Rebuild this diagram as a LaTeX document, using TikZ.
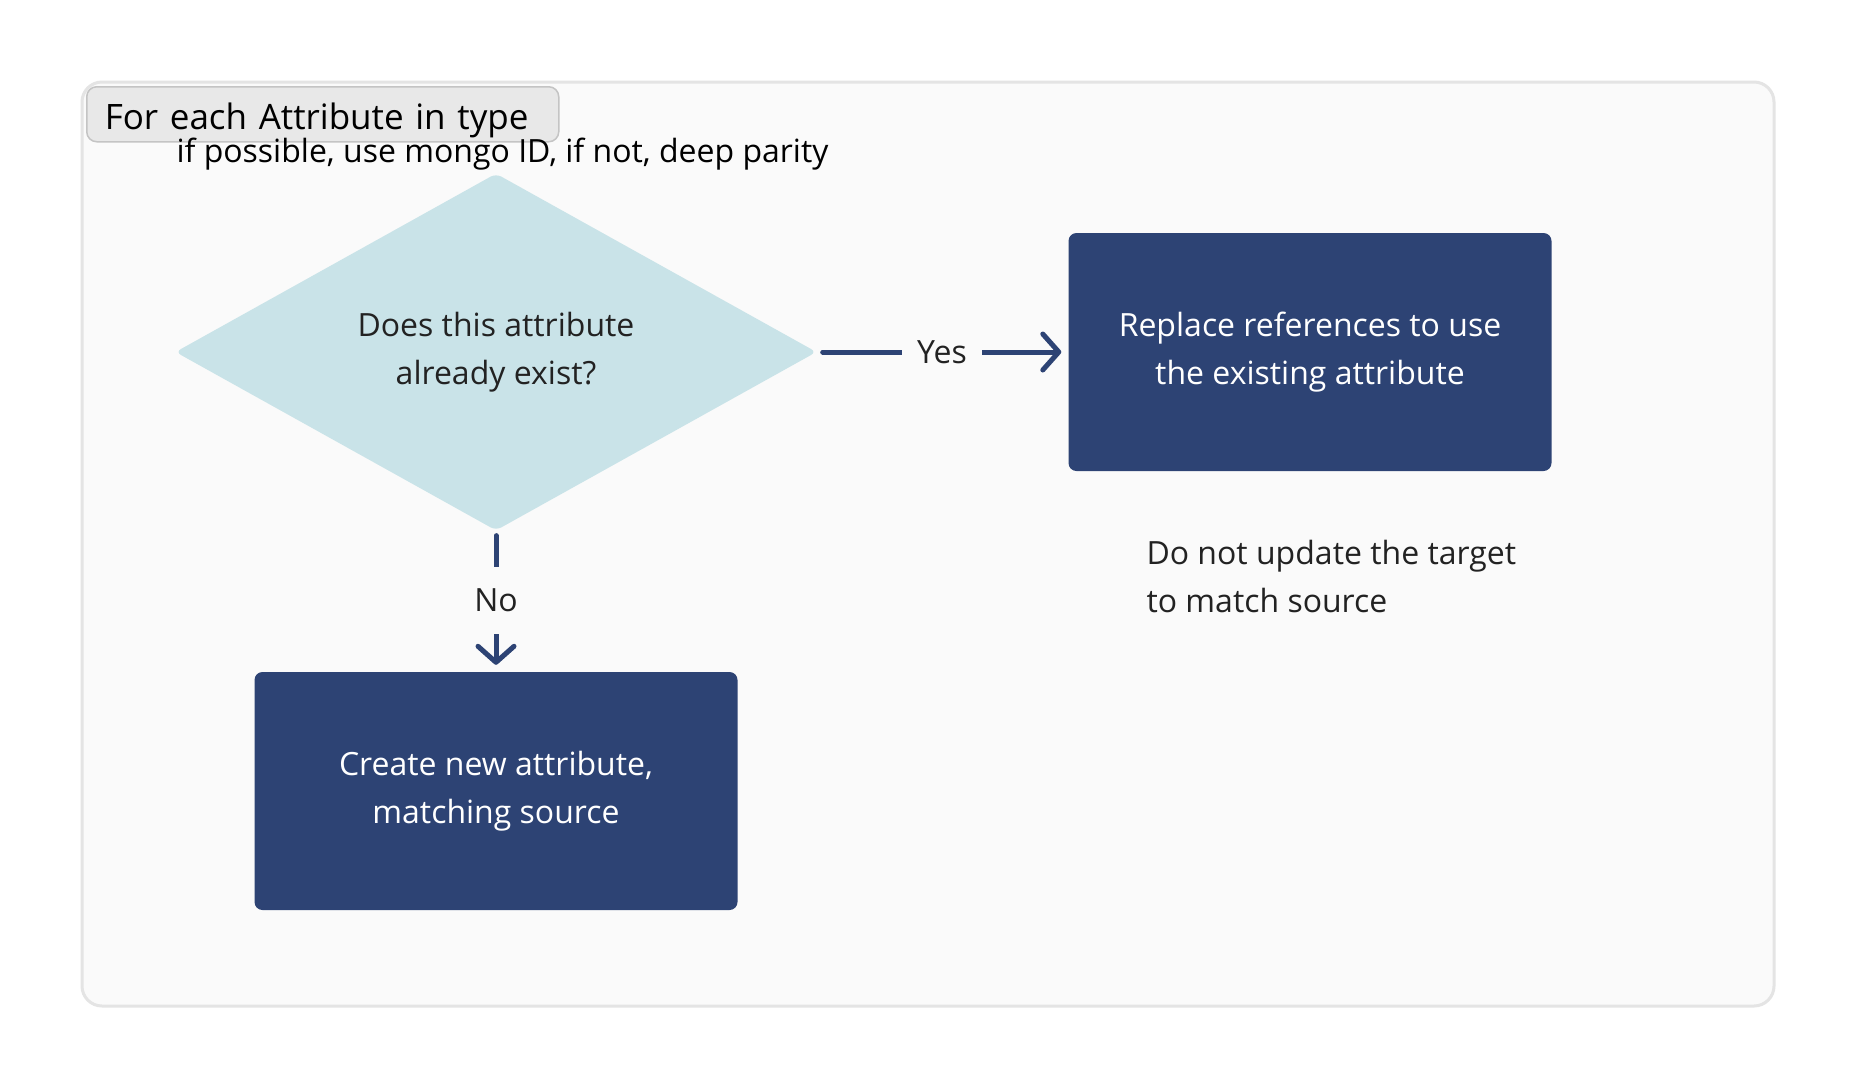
\documentclass[tikz,border=0pt]{standalone}
\usepackage{fontspec}
\setmainfont{Open Sans}
\usetikzlibrary{positioning, shapes.geometric, arrows.meta}
\definecolor{navy}{HTML}{2D4374}
\definecolor{paleblue}{HTML}{C9E3E8}
\definecolor{framebg}{HTML}{FAFAFA}
\definecolor{frameline}{HTML}{E4E4E4}
\definecolor{tagbg}{HTML}{E8E8E8}
\definecolor{tagline}{HTML}{C4C4C4}
\definecolor{ink}{HTML}{222222}

\begin{document}
\begin{tikzpicture}[
  x=1pt, y=-1pt,
  every node/.style={font=\fontsize{32}{48}\selectfont, text=ink},
  stepbox/.style={rectangle, rounded corners=8pt, fill=navy, text=white,
    minimum width=483pt, minimum height=238pt, align=center},
  conn/.style={draw=navy, line width=5pt, line cap=round,
    -{Straight Barb[length=16pt, width=36pt, round]}},
  cond/.style={fill=framebg, inner xsep=15pt, inner ysep=22pt},
]
\useasboundingbox (0,0) rectangle (1856,1088);
\fill[white] (0,0) rectangle (1856,1088);

  % Loop frame and its heading
  \draw[frameline, fill=framebg, line width=3pt, rounded corners=20pt]
    (82,82) rectangle (1774,1006);
  \node[draw=tagline, fill=tagbg, line width=1.5pt, rounded corners=10pt,
    minimum height=55pt, anchor=north west, text=black,
    text width=436pt, inner xsep=18pt, align=left,
    text height=31pt, text depth=0pt,
    font=\fontsize{35}{40}\selectfont] (loop) at (86,86)
    {For each Attribute in type};
  \node[anchor=west, text=black, font=\fontsize{32}{36}\selectfont]
    (hint) at (173,154) {if possible, use mongo ID, if not, deep parity};

  % Decision and the two outcomes
  \node[diamond, fill=paleblue, minimum width=641pt, minimum height=351pt,
    inner sep=0pt, rounded corners=6pt, align=center] (dia) at (496,352)
    {Does this attribute\\already exist?};
  \node[stepbox] (yes) at (1310,352) {Replace references to use\\the existing attribute};
  \node[stepbox] (no) at (496,791) {Create new attribute,\\matching source};
  \node[anchor=west, align=left] (note) at (1143,576)
    {Do not update the target\\to match source};

\draw[conn] ([xshift=6pt]dia.east) -- node[cond] {Yes} ([xshift=-7pt]yes.west);
\draw[conn] ([yshift=-5pt]dia.south) -- node[cond] {No} ([yshift=7pt]no.north);
\end{tikzpicture}
\end{document}
